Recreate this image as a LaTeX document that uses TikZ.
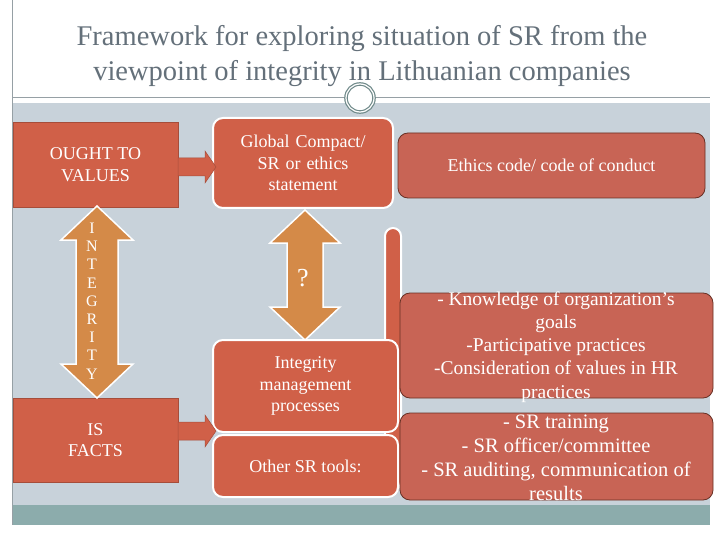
\documentclass[tikz,border=0pt]{standalone}
\usepackage{fontspec}
\setmainfont{Liberation Serif}
\definecolor{boxred}{RGB}{208,96,72}
\definecolor{boxred2}{RGB}{200,100,85}
\definecolor{orng}{RGB}{212,138,72}
\definecolor{slate}{RGB}{200,210,218}
\definecolor{teal}{RGB}{140,172,172}
\definecolor{ttl}{RGB}{100,112,122}
\definecolor{frm}{RGB}{150,160,165}
\begin{document}
\begin{tikzpicture}[x=1pt,y=-1pt,
  txt/.style={text=white,font=\fontsize{18}{21.5}\selectfont,align=center},
  sq/.style={fill=boxred,draw=boxred!80!black,line width=0.6pt,txt},
  rnd/.style={fill=boxred,draw=white,line width=2pt,rounded corners=10pt,txt},
  shd/.style={fill=boxred2,draw=boxred!50!black,line width=0.8pt,rounded corners=10pt,txt},
  arr/.style={fill=boxred,draw=boxred!80!black,line width=0.5pt},
  darr/.style={fill=orng,draw=white,line width=1.5pt}]
\useasboundingbox (0,0) rectangle (720,540);
\fill[white] (0,0) rectangle (720,540);
\fill[slate] (12,103) rectangle (710,505);
\fill[teal] (12,505) rectangle (710,525);
\draw[frm,line width=0.8pt] (12,0) -- (12,525);
\draw[frm,line width=0.8pt] (12,97) -- (710,97);
\node[text=ttl,font=\fontsize{28.5}{35}\selectfont,align=center] (title) at (362,56) {Framework for exploring situation of SR from the\\viewpoint of integrity in Lithuanian companies};
\node[circle,fill=white,draw=teal!80!black,double=white,double distance=1.2pt,line width=1.2pt,minimum size=28pt] (circ) at (360,98) {};
% left boxes
\node[sq,minimum width=165pt,minimum height=85pt] (ought) at (95.5,164.5) {OUGHT TO\\VALUES};
\node[sq,minimum width=165pt,minimum height=84pt] (facts) at (95.5,440) {IS\\FACTS};
% left double arrow
\draw[darr] (97,206) -- (133,240) -- (118,240) -- (118,364) -- (133,364) -- (97,398) -- (61,364) -- (76,364) -- (76,240) -- (61,240) -- cycle;
\node[txt,font=\fontsize{16}{18.2}\selectfont] (integ) at (92,301) {I\\N\\T\\E\\G\\R\\I\\T\\Y};
% middle nodes
\node[rnd,minimum width=180pt,minimum height=90pt,text width=150pt] (gc) at (303,163) {Global Compact/\\SR or ethics\\statement};
\draw[darr] (305,210) -- (340,243) -- (323,243) -- (323,307) -- (340,307) -- (305,340) -- (270,307) -- (287,307) -- (287,243) -- (270,243) -- cycle;
\node[txt,font=\fontsize{26}{30}\selectfont] (q) at (303,278) {?};
% right side back
\node[rounded corners=8pt,fill=boxred,draw=white,line width=2pt,minimum width=16pt,minimum height=262pt] (back) at (393,359) {};
\node[rnd,minimum width=185pt,minimum height=92pt,text width=150pt] (imp) at (305.5,386) {Integrity\\management\\processes};
\node[rnd,minimum width=185pt,minimum height=62pt] (ost) at (305.5,466) {Other SR tools:};
% arrows
\fill[arr] (178,158) -- (205,158) -- (205,151) -- (216,167) -- (205,183) -- (205,176) -- (178,176) -- cycle;
\fill[arr] (178,422) -- (205,422) -- (205,415) -- (216,431) -- (205,447) -- (205,440) -- (178,440) -- cycle;
\node[shd,minimum width=307pt,minimum height=65pt] (eth) at (551.5,165.5) {Ethics code/ code of conduct};
\node[shd,minimum width=313pt,minimum height=105pt] (know) at (556.5,345.5) {};
\node[shd,minimum width=313pt,minimum height=87pt] (train) at (556.5,456.5) {};
\node[txt,font=\fontsize{19.5}{23.2}\selectfont] (kt) at (556,347) {- Knowledge of organization’s\\goals\\-Participative practices\\-Consideration of values in HR\\practices};
\node[txt,font=\fontsize{20.5}{24}\selectfont] (tt) at (556,458) {- SR training\\- SR officer/committee\\- SR auditing, communication of\\results};
\end{tikzpicture}
\end{document}
